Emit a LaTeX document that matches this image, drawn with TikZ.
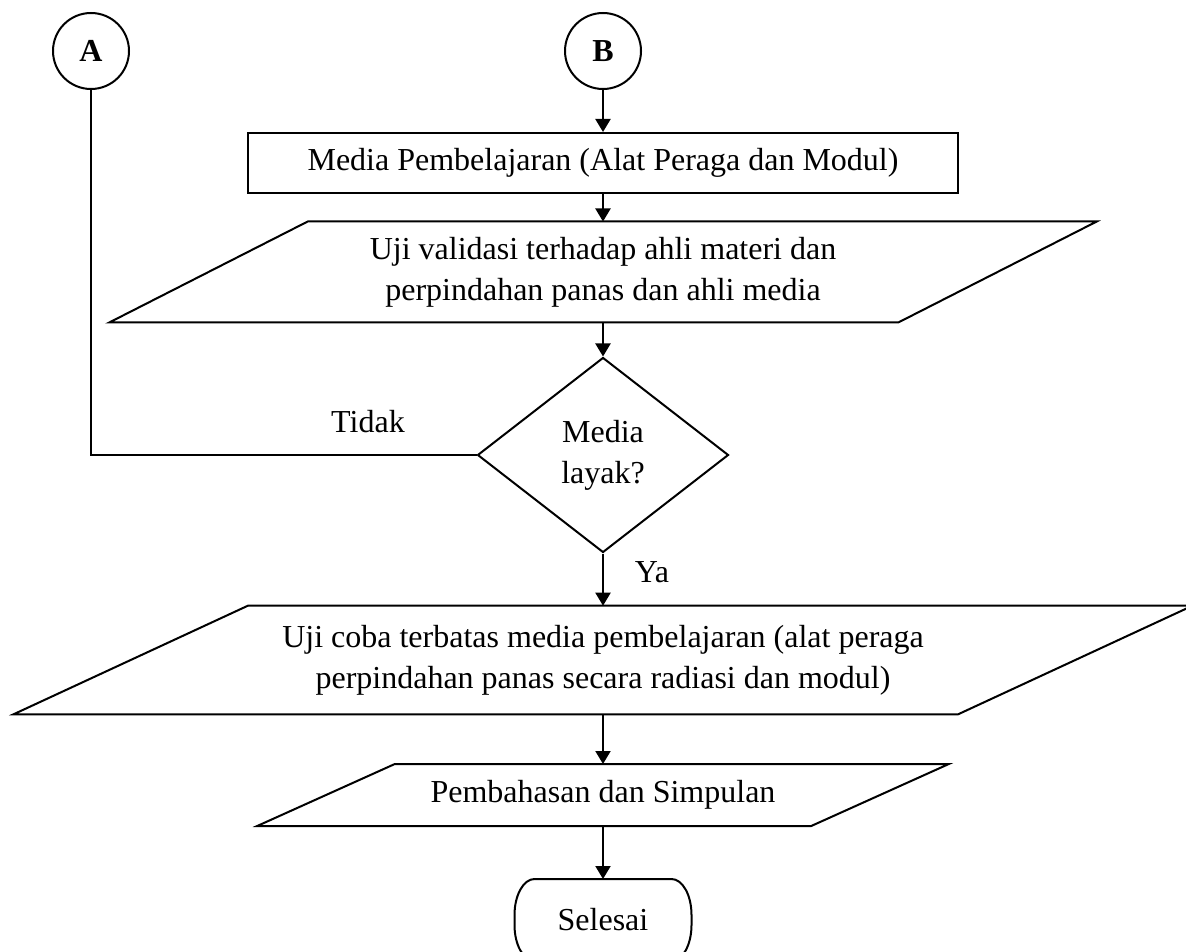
\documentclass[tikz,border=0pt]{standalone}
\usepackage{fontspec}
\setmainfont{Liberation Serif}
\usetikzlibrary{arrows.meta,shapes.geometric}
\begin{document}
\begin{tikzpicture}[x=0.5pt,y=-0.5pt,
  font=\fontsize{16}{20.5}\selectfont,
  line width=1pt,
  flow/.style={-{Triangle[length=6.5pt,width=7.5pt]}},
  connector/.style={circle,draw,minimum size=38pt,inner sep=0pt,
    font=\fontsize{16}{20.5}\selectfont\bfseries},
  process/.style={rectangle,draw,minimum width=355pt,minimum height=30pt,inner sep=0pt},
  io/.style 2 args={rectangle,minimum width=#1,minimum height=#2,inner sep=0pt,align=center},
  decision/.style={diamond,draw,minimum width=125.5pt,minimum height=97.5pt,
    inner sep=0pt,align=center},
  terminal/.style={rectangle,minimum width=87.5pt,minimum height=40pt,inner sep=0pt},
  label/.style={inner sep=0pt}
]
\useasboundingbox (0,0) rectangle (1186,951);

% off-page connectors
\node[connector] (A) at (91,51) {A};
\node[connector] (B) at (603,51) {B};

% main flow
\node[process] (media) at (603,163) {Media Pembelajaran (Alat Peraga dan Modul)};

\node[io={492.75pt}{49.5pt}] (valid) at (603,272)
  {Uji validasi terhadap ahli materi dan\\perpindahan panas dan ahli media};
\draw ([xshift=99.25pt]valid.north west) -- (valid.north east)
  -- ([xshift=-99.25pt]valid.south east) -- (valid.south west) -- cycle;

\node[decision] (layak) at (603,455) {Media\\layak?};

\node[io={588.5pt}{53.3pt}] (trial) at (603,660)
  {Uji coba terbatas media pembelajaran (alat peraga\\perpindahan panas secara radiasi dan modul)};
\draw ([xshift=117.2pt]trial.north west) -- (trial.north east)
  -- ([xshift=-117.2pt]trial.south east) -- (trial.south west) -- cycle;

\node[io={344.8pt}{30pt}] (bahas) at (603,795) {Pembahasan dan Simpulan};
\draw ([xshift=68.8pt]bahas.north west) -- (bahas.north east)
  -- ([xshift=-68.8pt]bahas.south east) -- (bahas.south west) -- cycle;

% terminator with elliptical corners
\node[terminal] (end) at (603,920) {Selesai};
\draw ([xshift=10pt]end.north west) -- ([xshift=-10pt]end.north east)
  arc[start angle=90,end angle=0,x radius=10pt,y radius=18pt]
  -- ([yshift=18pt]end.south east)
  arc[start angle=0,end angle=-90,x radius=10pt,y radius=18pt]
  -- ([xshift=10pt]end.south west)
  arc[start angle=270,end angle=180,x radius=10pt,y radius=18pt]
  -- ([yshift=-18pt]end.north west)
  arc[start angle=180,end angle=90,x radius=10pt,y radius=18pt] -- cycle;

% branch labels
\node[label] (tidak) at (368,422) {Tidak};
\node[label] (ya) at (652,572) {Ya};

% connectors
\draw (A) |- (layak.west);
\draw[flow] (B) -- (media);
\draw[flow] (media) -- (valid);
\draw[flow] (valid) -- (layak);
\draw[flow] (layak) -- (trial);
\draw[flow] (trial) -- (bahas);
\draw[flow] (bahas) -- (end);
\end{tikzpicture}
\end{document}
